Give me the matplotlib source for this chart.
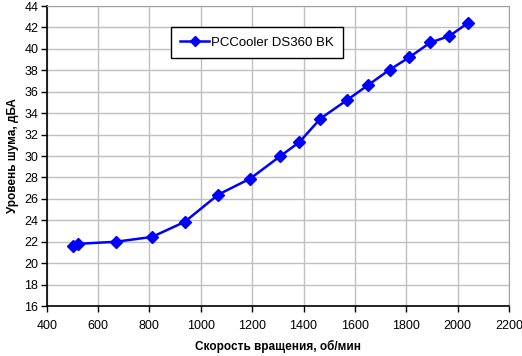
import matplotlib
matplotlib.use("Agg")
import matplotlib.pyplot as plt

plt.rcParams['font.family'] = ['Liberation Sans', 'DejaVu Sans']

# fan speed (rpm) vs noise level (dBA)
rpm = [502, 520, 670, 810, 937, 1068, 1193, 1310, 1384, 1466, 1571, 1653, 1735, 1811, 1894, 1968, 2042]
noise = [21.6, 21.8, 22.0, 22.45, 23.85, 26.4, 27.9, 30.0, 31.3, 33.5, 35.25, 36.65, 38.05, 39.2, 40.6, 41.2, 42.45]
series_name = "PCCooler DS360 BK"

fig = plt.figure(figsize=(5.22, 3.56), dpi=100)
ax = fig.add_axes([0.0895, 0.1404, 0.8855, 0.8426])

ax.plot(rpm, noise, color='#0000FF', lw=1.8, marker='D', ms=6, label=series_name, zorder=3)

ax.set_xlim(400, 2200)
ax.set_ylim(16, 44)
ax.set_xticks(range(400, 2201, 200))
ax.set_yticks(range(16, 45, 2))
ax.grid(True, color='#C0C0C0', lw=1)
ax.set_axisbelow(True)
ax.tick_params(labelsize=9, direction='out', length=4, width=1)
ax.tick_params(axis='x', pad=6)
ax.tick_params(axis='y', pad=2)
for side in ['top', 'right']:
    ax.spines[side].set_color('#A0A0A0')
for side in ['left', 'bottom']:
    ax.spines[side].set_color('black')
    ax.spines[side].set_linewidth(1.2)

ax.set_xlabel("Скорость вращения, об/мин", fontsize=8.5, fontweight='bold', labelpad=6)
ax.set_ylabel("Уровень шума, дБА", fontsize=8.5, fontweight='bold', labelpad=4)

leg = ax.legend(loc='upper left', bbox_to_anchor=(0.269, 0.93), borderaxespad=0,
                fontsize=9.5, frameon=True, fancybox=False, handlelength=2.2,
                borderpad=0.7, handletextpad=0.1, markerscale=0.8, framealpha=1)
leg.get_frame().set_edgecolor('black')
leg.get_frame().set_linewidth(1)

fig.savefig("out.png", dpi=100)
